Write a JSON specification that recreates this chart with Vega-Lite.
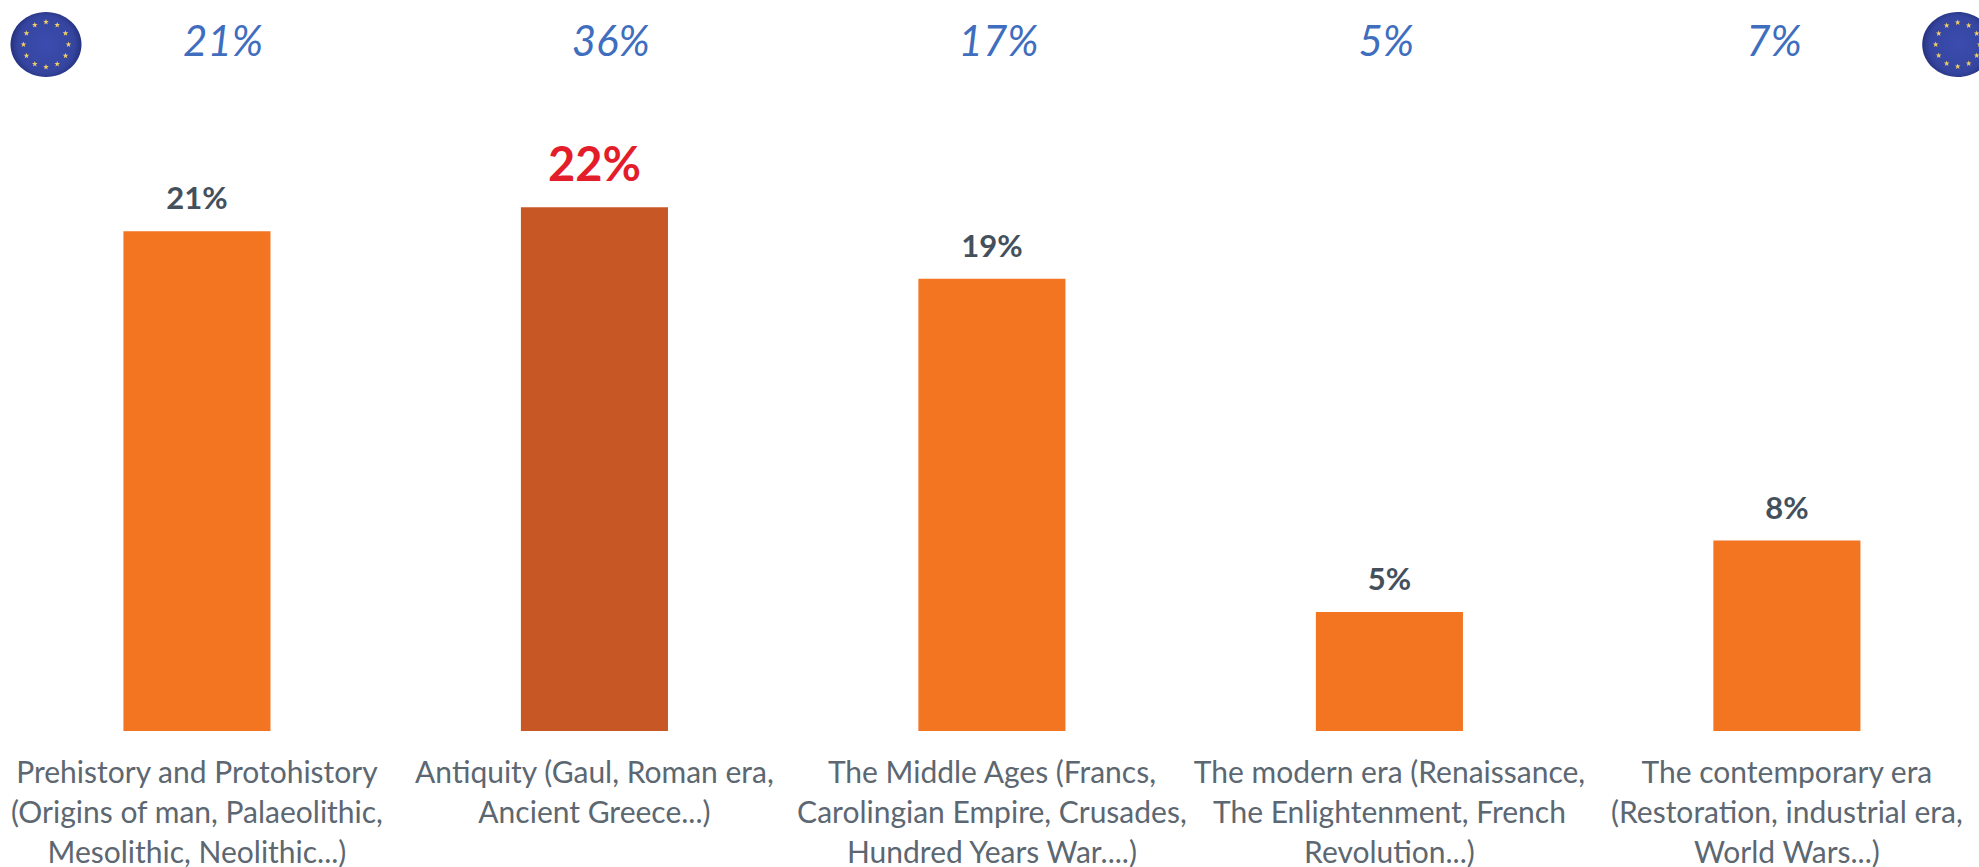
{
"$schema":"https://vega.github.io/schema/vega-lite/v6.json",
"width":1979,"height":731,
"autosize":{"type":"none"},
"padding":{"left":0,"top":0,"right":0,"bottom":136},
"background":"white",
"config":{"view":{"stroke":null},"text":{"font":"Lato"}},
"datasets":{
"eras":[
{"era":"Prehistory and Protohistory|(Origins of man, Palaeolithic,|Mesolithic, Neolithic...)","value":21,"eu":"21%","label":"21%","highlight":"no"},
{"era":"Antiquity (Gaul, Roman era,|Ancient Greece...)","value":22,"eu":"36%","label":"22%","highlight":"yes"},
{"era":"The Middle Ages (Francs,|Carolingian Empire, Crusades,|Hundred Years War....)","value":19,"eu":"17%","label":"19%","highlight":"no"},
{"era":"The modern era (Renaissance,|The Enlightenment, French|Revolution...)","value":5,"eu":"5%","label":"5%","highlight":"no"},
{"era":"The contemporary era|(Restoration, industrial era,|World Wars...)","value":8,"eu":"7%","label":"8%","highlight":"no"}
],
"discs":[{"fx":46,"fy":44.5},{"fx":1957.7,"fy":44.5}],
"stars":[
{"fx":46,"fy":22},{"fx":57.2,"fy":25},{"fx":65.5,"fy":33.3},{"fx":68.5,"fy":44.5},{"fx":65.5,"fy":55.7},{"fx":57.2,"fy":64},{"fx":46,"fy":67},{"fx":34.8,"fy":64},{"fx":26.5,"fy":55.7},{"fx":23.5,"fy":44.5},{"fx":26.5,"fy":33.3},{"fx":34.8,"fy":25},
{"fx":1957.7,"fy":22.5},{"fx":1968.7,"fy":25.5},{"fx":1976.7,"fy":33.5},{"fx":1979.7,"fy":44.5},{"fx":1976.7,"fy":55.5},{"fx":1968.7,"fy":63.5},{"fx":1957.7,"fy":66.5},{"fx":1946.7,"fy":63.5},{"fx":1938.7,"fy":55.5},{"fx":1935.7,"fy":44.5},{"fx":1938.7,"fy":33.5},{"fx":1946.7,"fy":25.5}
]
},
"layer":[
{
"data":{"name":"eras"},
"encoding":{
"x":{"field":"era","type":"nominal","sort":null,
"scale":{"paddingInner":0.63,"paddingOuter":0.3044,"align":0.51},
"axis":{"title":null,"domain":false,"ticks":false,"labelAngle":0,"labelFont":"Lato","labelFontSize":30,"labelColor":"#5c6771","labelPadding":27,"labelLimit":600,"labelOverlap":false,"labelFlush":false,"labelLineHeight":40,"labelExpr":"split(datum.label,'|')"}},
"y":{"field":"value","type":"quantitative","scale":{"domain":[0,30.71],"nice":false,"zero":true},"axis":null}
},
"layer":[
{"mark":{"type":"bar"},"encoding":{"color":{"field":"highlight","type":"nominal","scale":{"domain":["no","yes"],"range":["#f37522","#c85726"]},"legend":null}}},
{"transform":[{"filter":"datum.highlight === 'no'"}],"mark":{"type":"text","font":"Lato","fontWeight":"bold","fontSize":31,"color":"#44505c","baseline":"alphabetic","dy":-22},"encoding":{"text":{"field":"label","type":"nominal"}}},
{"transform":[{"filter":"datum.highlight === 'yes'"}],"mark":{"type":"text","font":"Lato","fontWeight":"bold","fontSize":47,"color":"#e31e2a","baseline":"alphabetic","dy":-26},"encoding":{"text":{"field":"label","type":"nominal"}}}
]
},
{
"data":{"name":"eras"},
"mark":{"type":"text","font":"Lato","fontStyle":"italic","fontSize":42,"color":"#3f6ebf","baseline":"middle","dy":1},
"encoding":{
"x":{"field":"era","type":"nominal","sort":null,"scale":{"type":"point","range":[223,1774],"padding":0},"axis":null},
"y":{"datum":28.95,"type":"quantitative","scale":{"domain":[0,30.71],"nice":false},"axis":null},
"text":{"field":"eu","type":"nominal"}
}
},
{
"data":{"name":"discs"},
"mark":{"type":"point","filled":true,"opacity":1,"shape":"M-1,0A1,0.916,0,1,0,1,0A1,0.916,0,1,0,-1,0Z","size":5041,
"color":{"gradient":"radial","stops":[{"offset":0,"color":"#3b4cb0"},{"offset":0.8,"color":"#35459f"},{"offset":1,"color":"#26327f"}]}},
"encoding":{
"x":{"field":"fx","type":"quantitative","scale":{"domain":[0,1979],"nice":false,"zero":false},"axis":null},
"y":{"field":"fy","type":"quantitative","scale":{"domain":[731,0],"nice":false,"zero":false},"axis":null}
}
},
{
"data":{"name":"stars"},
"mark":{"type":"point","filled":true,"opacity":1,"color":"#f2cf63","size":36,"shape":"M0,-1L0.236,-0.324L0.952,-0.31L0.382,0.124L0.588,0.81L0,0.4L-0.588,0.81L-0.382,0.124L-0.952,-0.31L-0.236,-0.324Z"},
"encoding":{
"x":{"field":"fx","type":"quantitative","scale":{"domain":[0,1979],"nice":false,"zero":false},"axis":null},
"y":{"field":"fy","type":"quantitative","scale":{"domain":[731,0],"nice":false,"zero":false},"axis":null}
}
}
],
"resolve":{"scale":{"x":"independent","y":"independent"}}
}
